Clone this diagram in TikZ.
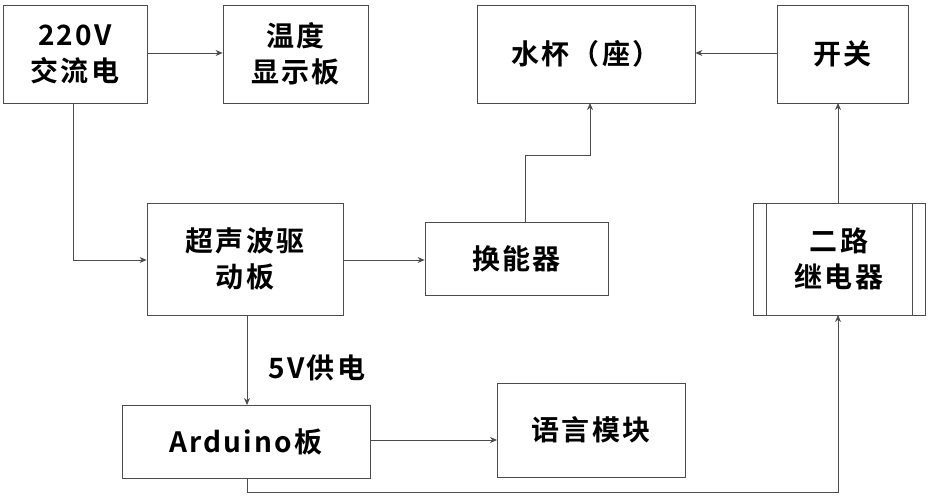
\documentclass[tikz,border=0pt]{standalone}
\usepackage{fontspec}
\setmainfont{Noto Sans CJK SC}[BoldFont=* Bold,LetterSpace=8]
\usetikzlibrary{arrows.meta}
\begin{document}
\begin{tikzpicture}[x=1pt,y=-1pt,
 box/.style={draw=black!70,line width=0.8pt,fill=white,inner sep=0pt,align=center,font=\fontsize{28}{36}\selectfont\bfseries},
 ar/.style={draw=black!70,line width=0.8pt,-{Stealth[length=7pt,width=6pt]}}]
\useasboundingbox (0,0) rectangle (931,500);
\newcommand{\bx}[6]{\node[box,minimum width=#4-#2,minimum height=#5-#3] (#1) at ({(#2+#4)/2},{(#3+#5)/2}) {#6};}
\bx{ac}{3}{5}{147}{103}{220V\\交流电}
\bx{wd}{223}{5}{368}{103}{温度\\显示板}
\bx{sb}{477}{5}{695}{103}{水杯（座）}
\bx{kg}{777}{5}{908}{103}{开关}
\bx{cs}{147}{203}{343}{315}{超声波驱\\动板}
\bx{hn}{425}{222}{608}{295}{换能器}
\bx{jd}{753}{203}{925}{315}{二路\\继电器}
\draw[draw=black!70,line width=0.8pt] (766,203)--(766,315) (912,203)--(912,315);
\bx{ar}{122}{405}{370}{478}{Arduino板}
\bx{yy}{497}{383}{685}{477}{语言模块}
\draw[ar] (ac.east|-0,53) -- (wd.west|-0,53);
\draw[ar] (kg.west|-0,53) -- (sb.east|-0,53);
\draw[ar] (73,103) -- (73,260) -- (cs.west|-0,260);
\draw[ar] (cs.east|-0,260) -- (hn.west|-0,260);
\draw[ar] (525,222) -- (525,155) -- (590,155) -- (590,103);
\draw[ar] (247,315) -- (247,405);
\node[font=\fontsize{28}{34}\selectfont\bfseries,anchor=west] (lab) at (265,368) {5V供电};
\draw[ar] (370,440) -- (497,440);
\draw[ar] (247,478) -- (247,492) -- (838,492) -- (838,315);
\draw[ar] (838,203) -- (838,103);
\end{tikzpicture}
\end{document}
